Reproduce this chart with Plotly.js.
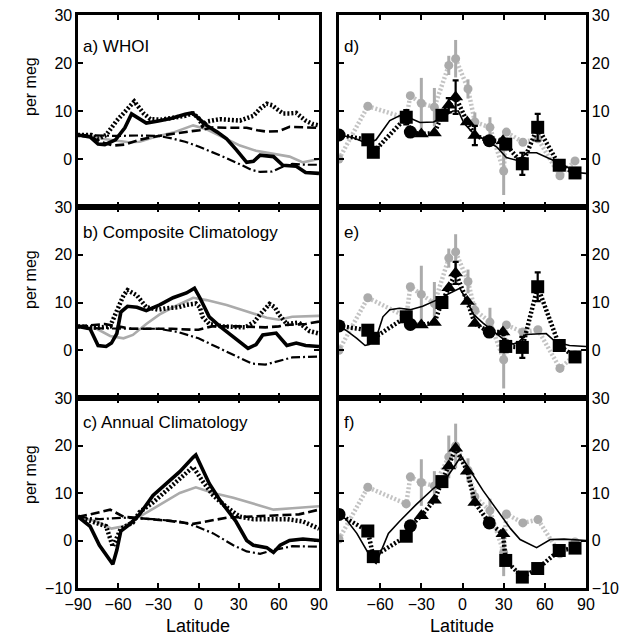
<!DOCTYPE html>
<html><head><meta charset="utf-8">
<script src="https://cdn.plot.ly/plotly-3.0.1.min.js"></script>
<style>html,body{margin:0;padding:0;background:#fff}</style>
</head><body><div id="chart" style="width:625px;height:635px"></div>
<script>
// ---------- Left panels: zonal model curves ----------
const xTicks = [-90,-60,-30,0,30,60,90];
const xTickTextLeft = ['\u221290','\u221260','\u221230','0','30','60','90'];
const xTickTextRight = ['','\u221260','\u221230','0','30','60','90'];

// a) WHOI
const aSolidLat = [-90,-81,-75,-70,-62,-55,-50,-45,-39,-30,-20,-10,-5,-2,6,14,21,28,36,41,46,56,63,73,80,90];
const aSolidVal = [5,4.6,3.1,3,4,6.5,9.4,8.6,7.5,7.9,8.5,9.3,9.6,9,7,5.6,4.2,2,-0.7,-0.5,0.8,0.5,-1.3,-1.5,-2.8,-3];
const aDotLat = [-90,-80,-75,-69,-61,-55,-51,-48,-41,-36,-28,-19,-10,-4,0,3,6,16,25,31,41,46,51,55,58,63,68,73,80,85,90];
const aDotVal = [5,5,4.2,5,8,10,11.2,12,9.5,8.3,8.2,8.5,9,9.5,8.5,7,7.8,8.3,8,8,9,10.5,11.5,11.2,10.5,9.5,9.5,9.6,8,7.3,7];
const aGrayLat = [-90,-81,-72,-62,-52,-44,-34,-19,-4,6,18,31,43,56,68,78,90];
const aGrayVal = [5,5,4.2,3.8,3.5,3.6,4.5,5.5,7,6.2,4.5,2.8,1.7,1,0.5,-0.7,0];
const aDashLat = [-90,-80,-72,-64,-55,-44,-30,-19,-5,1,11,20,36,44,51,60,68,78,90];
const aDashVal = [5,4.5,3.5,2.8,3,4,4.8,5.3,5.8,6,6.6,6.5,6.5,6,5.7,5.8,6.7,6.6,6.5];
const aDdLat = [-90,-75,-60,-45,-30,-20,-10,0,10,20,30,40,46,55,62,70,80,90];
const aDdVal = [5,4.9,4.8,4.9,4.8,4.3,3.6,2.6,1.5,0.3,-1,-2.3,-2.7,-2.6,-1.7,-1,-1.2,-1.2];

// b) Composite Climatology
const bSolidLat = [-90,-81,-75,-69,-65,-61,-58,-53,-46,-39,-29,-19,-9,-3,1,8,16,28,37,43,48,58,66,73,80,90];
const bSolidVal = [5,4.5,1,0.8,1.5,3.5,8,9.2,9,8.3,9.5,11,12,13,11,7,5,2.5,0.4,1.2,3.2,3.6,1,1.5,1,0.8];
const bDotLat = [-90,-76,-66,-61,-56,-53,-46,-39,-30,-24,-15,-9,-2,1,3,8,18,35,42,46,53,57,60,66,75,83,90];
const bDotVal = [5,4.7,5,8,11.5,12.6,11.5,9,8.5,8.8,9,9.5,9.8,9,7,5.5,5,4.8,6,7.5,9.7,9,7.5,5.5,5.8,4,3.5];
const bGrayLat = [-90,-76,-66,-56,-49,-39,-29,-19,-4,6,21,36,51,60,70,90];
const bGrayVal = [5,4.5,3,2.5,3.2,5.5,7.5,9,11,10.5,9.5,8.2,6.8,6.4,7,7.2];
const bDashLat = [-90,-80,-70,-60,-50,-35,-20,-5,0,10,30,50,60,65,80,90];
const bDashVal = [5,5.2,5.5,5,4.5,4.5,4.5,4.3,4.3,5,5,4.8,5,5.3,5.5,6];
const bDdLat = [-90,-75,-50,-30,-15,0,15,30,40,50,60,70,90];
const bDdVal = [5,4.6,4.5,4.5,3.8,2.5,0.5,-1.5,-2.8,-3,-2.2,-1.5,-1.3];

// c) Annual Climatology
const cSolidLat = [-90,-81,-74,-69,-64,-61,-58,-51,-44,-34,-24,-14,-4,-2,8,16,28,36,41,51,56,61,68,78,90];
const cSolidVal = [5,3,-1,-3,-5,-2,2,3.5,5.5,9.5,12,14.5,17.5,18,12,8.5,4,0,-1,-1.5,-2.5,-1,0,0.3,0];
const cDotLat = [-90,-79,-69,-64,-58,-49,-44,-34,-24,-14,-4,3,11,21,31,41,53,66,78,90];
const cDotVal = [5,4,3,-1.3,2.5,3.8,6,8,10.5,13,15.5,12.5,9.5,7,5,4.5,4.5,4.5,4,2.5];
const cGrayLat = [-90,-76,-65,-56,-44,-29,-14,-2,11,26,41,56,70,90];
const cGrayVal = [5,4,2.5,3,5,7.5,10,11.2,10,9,7.8,6.5,6.8,7.2];
const cDashLat = [-90,-81,-66,-56,-44,-24,-4,6,21,36,56,75,90];
const cDashVal = [5,5.5,6.5,5,4.7,4.2,3.5,4,4.8,5,5.3,5.5,6.5];
const cDdLat = [-90,-74,-56,-34,-14,-2,11,26,36,46,56,70,90];
const cDdVal = [5,4.5,4.8,4.5,4,3,1.5,-1,-2.3,-2.8,-2,-1.2,-1.3];

// ---------- Right panels: model line + station observations ----------
const dModelLat = [-90,-80,-69,-63,-53,-46,-38,-31,-21,-14,-7,-3,1,8,18,25,32,40,47,54,64,74,83,90];
const dModelVal = [5,4.5,3.2,4,8,9,8.5,7.6,7.7,8.8,10,10,7.5,5.3,3.8,2.5,0.3,-0.3,1.3,1.3,0,-1.3,-2.8,-3];
const eModelLat = [-90,-85,-77,-71,-68,-63,-58,-53,-46,-38,-29,-19,-9,-2,2,8,15,25,32,37,41,46,56,61,68,78,90];
const eModelVal = [5,4.2,2.5,1,1.2,2.5,7,8.5,8.8,8.5,9.2,10.5,12,13,11,7.5,5.7,3.5,1.8,1.3,1.7,3.3,3.5,3.5,1.7,1,0.8];
const fModelLat = [-90,-85,-77,-71,-66,-63,-59,-54,-46,-34,-21,-12,-5,-1,5,15,25,35,42,54,64,74,90];
const fModelVal = [5.5,4.5,1.5,-1.5,-4,-4.8,-2,1.5,4,7.5,11,13,16,17.8,15,10.5,6.5,2.5,0.2,-1.5,0.2,0.3,0];

const obsLat = [-90,-69,-65,-41,-38,-30,-20.5,-15,-10,-5,3.5,9,19.5,29.5,31.5,43.6,54.8,70.5,82];
const obsSym = ['circle','square','square','square','circle','triangle-up','triangle-up','square','triangle-up','triangle-up','triangle-up','triangle-up','circle','triangle-up','square','square','square','square','square'];
const dObs = [5.0,4.0,1.4,8.7,5.6,5.2,5.4,9.1,11.2,12.9,7.7,4.9,3.8,3.8,3.1,-1,6.6,-1.3,-2.9];
const dObsErr = [0,0,0,1.5,0,0,0,0,1.5,3.5,0,2,0,0,0,2.3,2.8,0,0];
const eObs = [5.1,4.2,2.5,7.0,5.4,5.3,5.8,10,13.1,16.2,10.2,5.6,3.8,3.8,0.8,0.6,13.3,1,-1.4];
const eObsErr = [0,0,0,0,0,0,0,0,0,2.3,0,0,0,0,1.2,2.2,3,0,0];
const fObs = [5.5,2.0,-3.4,0.9,3.1,5.2,8.5,12.4,15.7,19.4,14.6,8.0,3.7,1.4,-4.2,-7.7,-5.9,-2.1,-1.6];
const fObsErr = [0,0,0,0,0,0,0,0,0,0,0,0,0,0,0,0,0,0,0];

const grayLat = [-90,-69,-41,-38,-30,-20.5,-10,-5,4,9,20,30,32,44,55,71,82];
const dGray = [0,11,8.5,13.2,11.6,10.8,19.5,20.9,14.6,7.7,6.6,-2.5,5.6,3.5,4.2,-3.5,-0.4];
const dGrayErr = [0,0,0,0,5.3,4,2,3.9,2,2,2.1,5,0,0,0,0,0];
const eGray = [0,11,7,13.3,11.7,9.8,19.3,20.6,14.4,8.4,5.9,-2,5.3,3.8,4.3,-3.8,-1];
const eGrayErr = [0,0,0,0,6,4.5,2,3.7,2.5,1.5,3,6,0,0,0,0,0];
const fGray = [0.3,11.2,7.7,13.4,12.2,11.5,17.6,19.9,14.8,9.2,6.3,-2.5,5.6,3.7,4.4,-2.8,-0.3];
const fGrayErr = [0,0,0,0,4.9,3.1,4.5,4.7,2.5,1.5,2.5,5,0,0,0,0,0];

const panelLabels = ['a) WHOI','b) Composite Climatology','c) Annual Climatology','d)','e)','f)'];

// ---------- Build ----------
const GRAY = '#ababab';
const HATCH = '2px,2px';
const traces = [];
function lineTr(x,y,ax,line){ traces.push({x:x,y:y,xaxis:'x'+ax,yaxis:'y'+ax,mode:'lines',line:line,hoverinfo:'skip',showlegend:false}); }

function leftPanel(ax, s, d, g, ds, dd){
  lineTr(g[0], g[1], ax, {color:GRAY, width:2.6});
  lineTr(ds[0], ds[1], ax, {color:'#000', width:2.6, dash:'9px,4px'});
  lineTr(dd[0], dd[1], ax, {color:'#000', width:2.2, dash:'9px,3px,2px,3px'});
  lineTr(d[0], d[1], ax, {color:'#000', width:4.5, dash:HATCH});
  lineTr(s[0], s[1], ax, {color:'#000', width:3.6});
}
function rightPanel(ax, mLat, mVal, obs, obsErr, gray, grayErr){
  lineTr(grayLat, gray, ax, {color:'#c4c4c4', width:4.5, dash:HATCH});
  traces.push({x:grayLat,y:gray,xaxis:'x'+ax,yaxis:'y'+ax,mode:'markers',showlegend:false,hoverinfo:'skip',
    marker:{color:GRAY,size:9,symbol:'circle'},
    error_y:{type:'data',array:grayErr,visible:true,color:GRAY,thickness:3,width:0}});
  lineTr(obsLat, obs, ax, {color:'#000', width:4.5, dash:HATCH});
  lineTr(mLat, mVal, ax, {color:'#000', width:1.6});
  traces.push({x:obsLat,y:obs,xaxis:'x'+ax,yaxis:'y'+ax,mode:'markers',showlegend:false,hoverinfo:'skip',
    marker:{color:'#000',size:13,symbol:obsSym},
    error_y:{type:'data',array:obsErr,visible:true,color:'#000',thickness:2.2,width:3}});
}

leftPanel('', [aSolidLat,aSolidVal],[aDotLat,aDotVal],[aGrayLat,aGrayVal],[aDashLat,aDashVal],[aDdLat,aDdVal]);
rightPanel('2', dModelLat,dModelVal,dObs,dObsErr,dGray,dGrayErr);
leftPanel('3', [bSolidLat,bSolidVal],[bDotLat,bDotVal],[bGrayLat,bGrayVal],[bDashLat,bDashVal],[bDdLat,bDdVal]);
rightPanel('4', eModelLat,eModelVal,eObs,eObsErr,eGray,eGrayErr);
leftPanel('5', [cSolidLat,cSolidVal],[cDotLat,cDotVal],[cGrayLat,cGrayVal],[cDashLat,cDashVal],[cDdLat,cDdVal]);
rightPanel('6', fModelLat,fModelVal,fObs,fObsErr,fGray,fGrayErr);

const W=625, H=635;
const rows = [[15,207],[207,398],[398,588]];
const cols = [[78,319],[339,586]];
const FONT = {family:'Liberation Sans, Arial, sans-serif', size:16, color:'#000'};
function xd(c){ return [cols[c][0]/W, cols[c][1]/W]; }
function yd(r){ return [1-rows[r][1]/H, 1-rows[r][0]/H]; }

const layout = {width:W,height:H,margin:{l:0,r:0,t:0,b:0},paper_bgcolor:'#fff',plot_bgcolor:'#fff',
  font:FONT, showlegend:false, annotations:[]};
const names = ['','2','3','4','5','6'];
names.forEach((n,i)=>{
  const r = Math.floor(i/2), c = i%2;
  const xk = 'xaxis'+n, yk = 'yaxis'+n;
  layout[xk] = {domain:xd(c), range:[-90,90], anchor:'y'+n, tickvals:xTicks,
    ticktext: c===0 ? xTickTextLeft : xTickTextRight,
    ticks:'inside', ticklen:5, tickwidth:2, tickcolor:'#000', showgrid:false, zeroline:false,
    showline:true, linecolor:'#000', linewidth:2.6, mirror:'ticks', showticklabels: r===2,
    tickfont:FONT, fixedrange:true};
  layout[yk] = {domain:yd(r), range:[-10,30], anchor:'x'+n,
    tickvals: r===2 ? [-10,0,10,20,30] : [0,10,20,30],
    ticks:'inside', ticklen:5, tickwidth:2, tickcolor:'#000', showgrid:false, zeroline:false,
    showline:true, linecolor:'#000', linewidth:2.6, mirror:'ticks', side: c===0?'left':'right',
    tickfont:FONT, fixedrange:true};
  layout.annotations.push({xref:'paper',yref:'paper',x:(cols[c][0]+3)/W, y:1-[47,232,422][r]/H,
    xanchor:'left',yanchor:'middle',showarrow:false,text:panelLabels[c*3+r],font:{family:FONT.family,size:17,color:'#000'}});
});
[87,280,475].forEach(yc=>layout.annotations.push({xref:'paper',yref:'paper',x:30/W,y:1-yc/H,textangle:-90,
  xanchor:'center',yanchor:'middle',showarrow:false,text:'per meg',font:{family:FONT.family,size:16,color:'#000'}}));
[198,462].forEach(xc=>layout.annotations.push({xref:'paper',yref:'paper',x:xc/W,y:1-626/H,xanchor:'center',yanchor:'middle',
  showarrow:false,text:'Latitude',font:{family:FONT.family,size:18,color:'#000'}}));

Plotly.newPlot('chart', traces, layout, {staticPlot:true});
</script></body></html>
